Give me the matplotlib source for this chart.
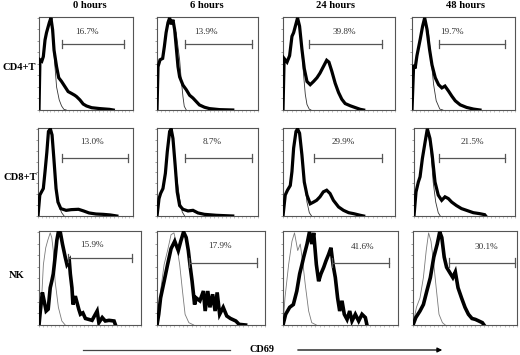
import matplotlib
matplotlib.use("Agg")
import matplotlib.pyplot as plt
import numpy as np

# ---------------- data (x: CD69 channel 0-100, y: relative count 0-100) -------------
time_labels = ["0 hours", "6 hours", "24 hours", "48 hours"]
cell_labels = ["CD4+T", "CD8+T", "NK"]
percent_labels = [["16.7%", "13.9%", "39.8%", "19.7%"],
                  ["13.0%", "8.7%", "29.9%", "21.5%"],
                  ["15.9%", "17.9%", "41.6%", "30.1%"]]

# CD4+T, stained (thick) and control (thin)
cd4_0h = [(0, 0), (1, 54.5), (3, 53), (4.6, 58), (6.4, 76), (8, 84), (11, 95), (12.7, 100), (14.5, 87),
          (16, 65), (18.7, 47), (21, 35), (24, 31), (27.5, 25.5), (31, 20), (34.6, 18), (38, 16),
          (40, 14.5), (43.5, 11), (47, 6.5), (50.5, 4.4), (56, 2.5), (65, 1.5), (75, 0.7), (79, 0)]
cd4_0h_ctl = [(0, 0), (1, 54.5), (3, 53), (4.6, 58), (6.4, 76), (8, 84), (11, 95), (12.7, 100), (15, 76),
              (17, 47), (18.7, 25), (21.5, 11), (24, 4.4), (26.5, 0.7), (29, 0)]
cd4_6h = [(0, 0), (1, 47), (3, 54.5), (5.6, 56), (7.3, 69), (9, 84), (10.9, 95), (12.5, 100), (14, 93),
          (15.8, 98), (17.5, 87), (19, 69), (20.8, 47), (22.4, 36), (25.7, 27), (29, 22), (32.3, 16),
          (35.6, 13), (39, 9), (42, 5.5), (47, 3), (52, 1.5), (62, 0.4), (75, 0)]
cd4_6h_ctl = [(0, 0), (1, 47), (3, 54.5), (5.6, 56), (7.3, 69), (9, 84), (10.9, 95), (12.5, 100),
              (15.8, 93), (19, 84), (22.4, 54.5), (24, 33), (25.7, 14.5), (27, 4), (29, 0)]
cd4_24h = [(0, 0), (1, 56), (3.6, 52), (5.9, 59), (8, 80), (9.5, 84), (11.9, 95), (13, 100), (14.8, 91),
           (16.9, 66), (19, 45), (21.4, 31), (24.3, 27.5), (27.3, 31), (30.3, 35), (33, 40), (36, 47),
           (39, 54), (41, 52), (43.6, 42), (46.6, 29), (49.6, 19), (52.5, 11.7), (55.5, 7), (60, 4.6),
           (66, 2), (69, 0.7), (72, 0)]
cd4_24h_ctl = [(0, 0), (1, 56), (3.6, 52), (5.9, 59), (8, 80), (9.5, 84), (11.9, 95), (13, 100),
               (15.4, 84), (16.9, 62), (18.4, 38), (19.9, 17), (21.4, 6), (23.4, 1), (25, 0)]
cd4_48h = [(0, 0), (1.6, 49), (3, 45), (4.8, 59), (8, 77), (10.3, 91), (12.3, 100), (14.5, 88), (17, 66),
           (19.4, 49), (22.6, 35), (25.8, 27.5), (29, 24), (32, 26), (35.5, 20.5), (38.7, 15), (42, 10),
           (46.8, 5.6), (53, 2.8), (59.7, 1), (66, 0)]
cd4_48h_ctl = [(0, 0), (1.6, 49), (3, 45), (4.8, 59), (8, 77), (10.3, 91), (12.3, 100), (16, 84),
               (18.4, 56), (21, 27.5), (23.5, 10), (27, 1), (30, 0)]

# CD8+T
cd8_0h = [(0, 0), (1.9, 24), (3.7, 27.7), (5.6, 31.5), (7.4, 51), (9.3, 73), (11, 97), (13, 100),
          (14.8, 93), (16.7, 66), (19, 31.5), (21, 16), (24, 8.5), (29.6, 6.5), (35, 7.3), (42.6, 7.7),
          (48, 5.8), (53.7, 3.5), (61, 2.3), (68.5, 1.9), (76, 1.2), (83, 0)]
cd8_0h_ctl = [(0, 0), (1.9, 24), (3.7, 27.7), (5.6, 31.5), (7.4, 51), (9.3, 73), (11, 97), (13, 100),
              (14.8, 93), (16.7, 74), (19, 35), (22, 12), (24.8, 4), (27.5, 0)]
cd8_6h = [(0, 0), (2, 20), (3.6, 26), (5.9, 31.5), (8.3, 49), (10.2, 74), (12.5, 97), (14, 100),
          (15.8, 89), (18, 58), (20, 27.7), (22.4, 12), (25.7, 7.7), (30.7, 5.8), (35.6, 6.5),
          (40.6, 3.5), (47, 1.9), (58.7, 0.8), (75, 0)]
cd8_6h_ctl = [(0, 0), (2, 20), (3.6, 26), (5.9, 31.5), (8.3, 49), (10.2, 74), (12.5, 97), (14, 100),
              (15.8, 92), (19, 49), (22.4, 20), (25, 4.6), (27.4, 0)]
cd8_24h = [(0, 0), (2, 24), (4, 29.6), (6.5, 35), (8, 51), (9.5, 78), (11.6, 97), (13, 100), (14.8, 95),
           (16.9, 70), (19, 39), (21.4, 24), (24.3, 14), (27.3, 16), (30, 18), (33, 22), (36, 27.7),
           (39, 29.6), (42, 25.8), (45, 18), (49.6, 10.4), (54, 6.5), (58.6, 3.8), (63, 2.7),
           (69, 0.8), (72, 0)]
cd8_24h_ctl = [(0, 0), (2, 24), (4, 29.6), (6.5, 35), (8, 51), (9.5, 78), (11.6, 97), (13, 100),
               (14.8, 95), (16.9, 74), (19, 43), (21.4, 16), (23.5, 3.8), (25.5, 0)]
cd8_48h = [(0, 0), (2, 27.7), (4.3, 39), (6, 45), (8.3, 66), (11, 85), (13.2, 100), (15.8, 89), (18, 70),
           (20.8, 39), (24, 24), (27.4, 18), (30.7, 22), (34, 20), (37.3, 16), (42, 12), (47, 8.5),
           (52, 6.5), (58.7, 3.8), (65, 2.7), (70, 1.5), (71, 0)]
cd8_48h_ctl = [(0, 0), (2, 27.7), (4.3, 39), (6, 45), (8.3, 66), (11, 85), (13.2, 100), (16.5, 77),
               (19, 39), (21.5, 16), (24, 3.8), (26, 0)]

# NK
nk_0h = [(0, 0), (1.3, 15), (3.3, 35), (5, 26), (7, 15), (9, 17), (11, 40), (12.5, 47), (14, 55),
         (15.8, 73), (17.5, 91), (19, 100), (21, 99), (23, 87), (25.7, 73), (27.4, 65), (29.7, 69),
         (30.7, 55), (32.3, 40), (33.3, 22), (35.6, 31), (37.3, 24), (39, 17), (40.6, 11.5), (43, 13),
         (45.5, 7), (48.8, 6), (52, 5), (57, 15), (58.7, 2.5), (62, 8), (65, 4.3), (68.6, 5),
         (73.6, 4.3), (75, 0)]
nk_0h_ctl = [(0, 0), (2.6, 29), (4.3, 65), (6.6, 83), (8.6, 91), (11, 99), (12.5, 94), (14, 80),
             (15.8, 47), (19, 19), (22.4, 4.3), (25.7, 0)]
nk_6h = [(0, 0), (1.6, 11.5), (3.3, 29), (6.6, 47), (9.8, 65), (13, 82), (16.4, 90), (19.7, 80), (22, 90),
         (24.6, 100), (27, 94), (29, 80), (30.5, 65), (32.5, 47), (34.8, 22), (36.4, 29), (39.7, 26),
         (43, 36.5), (44.6, 15), (47, 36.5), (49, 19), (51.5, 33), (53.8, 15), (55.7, 35), (58, 11.5),
         (61.3, 19), (64.6, 9.7), (68, 7), (73, 4.3), (76, 0.7), (82, 0)]
nk_6h_ctl = [(0, 0), (3.3, 36.5), (6.6, 65), (9.8, 80), (13, 97), (15.7, 99), (18, 87), (21, 65),
             (23.6, 36.5), (26, 11.5), (29.5, 2.5), (34, 0)]
nk_24h = [(0, 0), (2.3, 11.5), (5.8, 19), (9, 22), (12, 36.5), (14.5, 55), (16.5, 65), (18, 73),
          (20.9, 87), (23, 100), (25, 87), (26.7, 99), (29, 65), (31, 47), (33, 55), (35.4, 62),
          (37.4, 69), (39.7, 76), (41.7, 83), (43.5, 65), (45.5, 51), (47.5, 29), (49.3, 15), (51.3, 26),
          (53.3, 11.5), (55.7, 6), (58, 15), (60, 4.3), (62.9, 11.5), (65.8, 4.3), (68.7, 11.5),
          (71.6, 8), (73, 0)]
nk_24h_ctl = [(0, 0), (1.7, 29), (4.9, 65), (7.8, 90), (10, 99), (12.8, 80), (15, 87), (17.4, 65),
              (19.4, 43), (22.3, 15), (25, 2.5), (29, 0)]
nk_48h = [(0, 0), (2.7, 8), (6.7, 15), (10, 22), (13.3, 36.5), (16.7, 51), (20, 73), (23.3, 87),
          (25.7, 100), (27.7, 94), (30, 73), (32.3, 62), (35, 57), (38.3, 51), (40.7, 57), (43.3, 40),
          (46.7, 29), (50, 19), (53.3, 11.5), (56.7, 7), (60, 6), (63.3, 4.3), (66.7, 2.5), (68.3, 0)]
nk_48h_ctl = [(0, 0), (3.3, 19), (6.7, 29), (10, 51), (12.7, 80), (15, 99), (17.3, 90), (20, 65),
              (22.3, 40), (25, 11.5), (28.3, 2.5), (31, 0)]

stained = [[cd4_0h, cd4_6h, cd4_24h, cd4_48h],
           [cd8_0h, cd8_6h, cd8_24h, cd8_48h],
           [nk_0h, nk_6h, nk_24h, nk_48h]]
controls = [[cd4_0h_ctl, cd4_6h_ctl, cd4_24h_ctl, cd4_48h_ctl],
            [cd8_0h_ctl, cd8_6h_ctl, cd8_24h_ctl, cd8_48h_ctl],
            [nk_0h_ctl, nk_6h_ctl, nk_24h_ctl, nk_48h_ctl]]

# marker gate ranges (channel units)
gate_ranges = [[(24.5, 90), (28, 94), (23, 88), (26, 90)],
               [(25, 95), (28, 94), (28, 88), (25, 90)],
               [(28, 91), (30, 93), (43, 92), (35, 98)]]

# ---------------- layout (pixel boxes) ----------------
W, H = 520, 355
row_y = [(17, 110), (128, 216), (231, 325)]
col_x = [[(39, 133), (157, 258), (283, 395), (412, 515)],
         [(38, 133), (157, 258), (283, 395), (414, 515)],
         [(39, 141), (157, 265), (283, 398), (413, 517)]]
text_pos = [[(0.51, 0.84), (0.49, 0.84), (0.55, 0.84), (0.39, 0.84)],
            [(0.57, 0.84), (0.55, 0.84), (0.54, 0.84), (0.58, 0.84)],
            [(0.52, 0.85), (0.58, 0.84), (0.69, 0.83), (0.71, 0.83)]]
bar_y = [[72, 72, 72, 72], [67, 67, 67, 67], [72, 67, 67, 67]]
title_x = [90, 207, 335, 465]
label_xy = [(19.5, 68), (20, 178), (16.5, 275)]

plt.rcParams['font.family'] = ['Liberation Serif', 'DejaVu Serif']
fig = plt.figure(figsize=(W / 100, H / 100), dpi=100)
fig.patch.set_facecolor('white')

for r in range(3):
    t, b = row_y[r]
    for c in range(4):
        l, rr = col_x[r][c]
        ax = fig.add_axes([l / W, 1 - b / H, (rr - l) / W, (b - t) / H])
        ctl = np.array(controls[r][c])
        st = np.array(stained[r][c])
        thin_col = '#333333' if r < 2 else '#7a7a7a'
        ax.plot(ctl[:, 0], ctl[:, 1], color=thin_col, lw=0.6, zorder=2)
        ax.plot(st[:, 0], st[:, 1], color='black', lw=2.3 if r < 2 else 2.6,
                solid_joinstyle='miter', zorder=3)
        ax.set_xlim(0, 100)
        ax.set_ylim(0, 101)
        g0, g1 = gate_ranges[r][c]
        yb = bar_y[r][c]
        ax.plot([g0, g1], [yb, yb], color='#555555', lw=0.9, zorder=4)
        ax.plot([g0, g0], [yb - 4.5, yb + 4.5], color='#555555', lw=0.9, zorder=4)
        ax.plot([g1, g1], [yb - 4.5, yb + 4.5], color='#555555', lw=0.9, zorder=4)
        tx, ty = text_pos[r][c]
        ax.text(tx, ty, percent_labels[r][c], transform=ax.transAxes, ha='center', va='center',
                fontsize=6.6, color='#333333')
        for s in ax.spines.values():
            s.set_color('#555555')
            s.set_linewidth(0.8)
        ax.set_yticks(np.linspace(0, 100, 9))
        ax.set_xticks(np.linspace(0, 100, 26))
        ax.tick_params(axis='y', length=1.8, width=0.5, colors='#777777', labelleft=False, direction='out')
        ax.tick_params(axis='x', length=1.2, width=0.4, colors='#999999', labelbottom=False, direction='out')

for c in range(4):
    fig.text(title_x[c] / W, 1 - 6 / H, time_labels[c], ha='center', va='center',
             fontsize=7.6, fontweight='bold')
for r in range(3):
    x, y = label_xy[r]
    fig.text(x / W, 1 - y / H, cell_labels[r], ha='center', va='center', fontsize=7.6, fontweight='bold')

# CD69 axis arrow
ya = 1 - 350 / H
fig.add_artist(matplotlib.lines.Line2D([83 / W, 230 / W], [ya, ya], color='#444444', lw=0.9))
fig.text(262 / W, ya, "CD69", ha='center', va='center', fontsize=7.4, fontweight='bold')
fig.add_artist(matplotlib.patches.FancyArrowPatch((295 / W, ya), (445 / W, ya), transform=fig.transFigure,
                                                  arrowstyle='-|>', mutation_scale=7, color='black', lw=0.9))

fig.savefig("out.png", dpi=100, facecolor='white')
